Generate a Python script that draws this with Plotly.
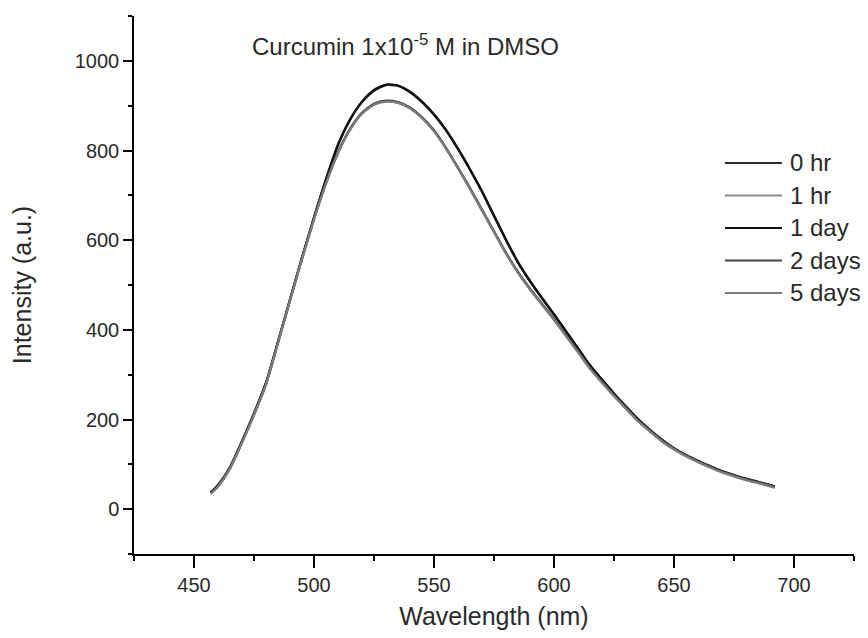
import plotly.graph_objects as go

wavelength = [457, 460, 465, 470, 475, 480, 485, 490, 495, 500, 505, 510, 515, 520, 525,
              530, 535, 540, 545, 550, 555, 560, 565, 570, 575, 580, 585, 590, 595, 600,
              605, 610, 615, 620, 625, 630, 635, 640, 645, 650, 655, 660, 665, 670, 675,
              680, 685, 690, 692]

i_0hr = [38, 54, 94, 152, 214, 282, 374, 466, 560, 650, 735, 812, 868, 908, 933,
         946, 944, 930, 908, 880, 845, 803, 757, 708, 654, 600, 550, 508, 470, 434,
         396, 358, 320, 288, 257, 228, 200, 176, 154, 135, 120, 107, 95, 84, 75,
         67, 60, 53, 50]
i_1hr = [35, 51, 91, 149, 211, 279, 371, 466, 558, 647, 727, 795, 847, 883, 903,
         910, 907, 895, 873, 844, 805, 761, 715, 667, 619, 571, 528, 491, 457, 423,
         387, 351, 314, 283, 253, 225, 197, 174, 152, 134, 119, 106, 94, 83, 74,
         66, 59, 52, 49]
i_1day = [37, 53, 93, 151, 213, 281, 373, 467, 561, 651, 736, 813, 869, 909, 935,
          947, 945, 931, 909, 881, 846, 804, 758, 709, 655, 601, 551, 509, 471, 435,
          397, 359, 321, 289, 258, 229, 201, 177, 155, 136, 121, 108, 96, 85, 76,
          68, 61, 54, 51]
i_2days = [36, 52, 92, 150, 212, 280, 372, 468, 560, 648, 728, 796, 848, 884, 904,
           911, 908, 896, 874, 845, 806, 762, 716, 668, 620, 572, 529, 492, 458, 424,
           388, 352, 315, 284, 254, 226, 198, 175, 153, 135, 120, 107, 95, 84, 75,
           67, 60, 53, 50]
i_5days = [34, 50, 90, 148, 210, 278, 370, 465, 557, 646, 726, 794, 846, 882, 902,
           909, 906, 894, 872, 843, 804, 760, 714, 666, 618, 570, 527, 490, 456, 422,
           386, 350, 313, 282, 252, 224, 196, 173, 151, 133, 118, 105, 93, 82, 73,
           65, 58, 51, 48]

series_names = ["0 hr", "1 hr", "1 day", "2 days", "5 days"]
series_values = [i_0hr, i_1hr, i_1day, i_2days, i_5days]
series_colors = ["#2e2e2e", "#8a8a8a", "#111111", "#444444", "#7c7c7c"]

x_ticks = [450, 500, 550, 600, 650, 700]
y_ticks = [0, 200, 400, 600, 800, 1000]

FONT = "Liberation Sans, Arial, sans-serif"
TXT = "#2a2a2a"

fig = go.Figure()
for name, vals, col in zip(series_names, series_values, series_colors):
    fig.add_trace(go.Scatter(x=wavelength, y=vals, mode="lines", name=name, showlegend=False,
                             line=dict(color=col, width=2.3, shape="spline", smoothing=0.6)))

# legend drawn as line samples + text labels (placed in paper coordinates, outside data)
leg_x0, leg_x1, leg_tx = 0.8208, 0.90, 0.9083
leg_top, leg_step = 0.7268, 0.0604
shapes, annotations = [], []
for k, (name, col) in enumerate(zip(series_names, series_colors)):
    yk = leg_top - k * leg_step
    shapes.append(dict(type="line", xref="paper", yref="paper", x0=leg_x0, x1=leg_x1,
                       y0=yk, y1=yk, line=dict(color=col, width=2)))
    annotations.append(dict(text=name, xref="paper", yref="paper", x=leg_tx, y=yk,
                            xanchor="left", yanchor="middle", showarrow=False,
                            font=dict(size=24, family=FONT, color=TXT)))

annotations.append(dict(text="Curcumin 1x10<sup>-5</sup> M in DMSO", xref="paper", yref="paper",
                        x=0.377, y=0.946, xanchor="center", yanchor="middle", showarrow=False,
                        font=dict(size=24, family=FONT, color=TXT)))

fig.update_layout(
    width=868, height=638,
    margin=dict(l=134, r=14, t=16, b=84),
    paper_bgcolor="white", plot_bgcolor="white",
    font=dict(family=FONT, color=TXT),
    showlegend=False,
    shapes=shapes,
    annotations=annotations,
)

fig.update_xaxes(
    range=[425, 725], tickvals=x_ticks, ticktext=[str(v) for v in x_ticks],
    showgrid=False, zeroline=False, showline=True, linecolor="black", linewidth=1.5,
    ticks="outside", ticklen=12, tickwidth=1.5, tickcolor="black",
    tickfont=dict(size=20, family=FONT, color=TXT),
    minor=dict(dtick=25, tick0=425, ticks="outside", ticklen=5, tickwidth=1.5, tickcolor="black"),
    title=dict(text="Wavelength (nm)", font=dict(size=25, family=FONT, color=TXT), standoff=13),
    automargin=False,
)
fig.update_yaxes(
    range=[-100, 1100], tickvals=y_ticks, ticktext=[str(v) for v in y_ticks],
    showgrid=False, zeroline=False, showline=True, linecolor="black", linewidth=1.5,
    ticks="outside", ticklen=9, tickwidth=1.5, tickcolor="black",
    tickfont=dict(size=20, family=FONT, color=TXT),
    minor=dict(dtick=100, tick0=-100, ticks="outside", ticklen=4, tickwidth=1.5, tickcolor="black"),
    title=dict(text="Intensity (a.u.)", font=dict(size=25, family=FONT, color=TXT), standoff=36),
    automargin=False,
)

fig.write_html("out.html")
